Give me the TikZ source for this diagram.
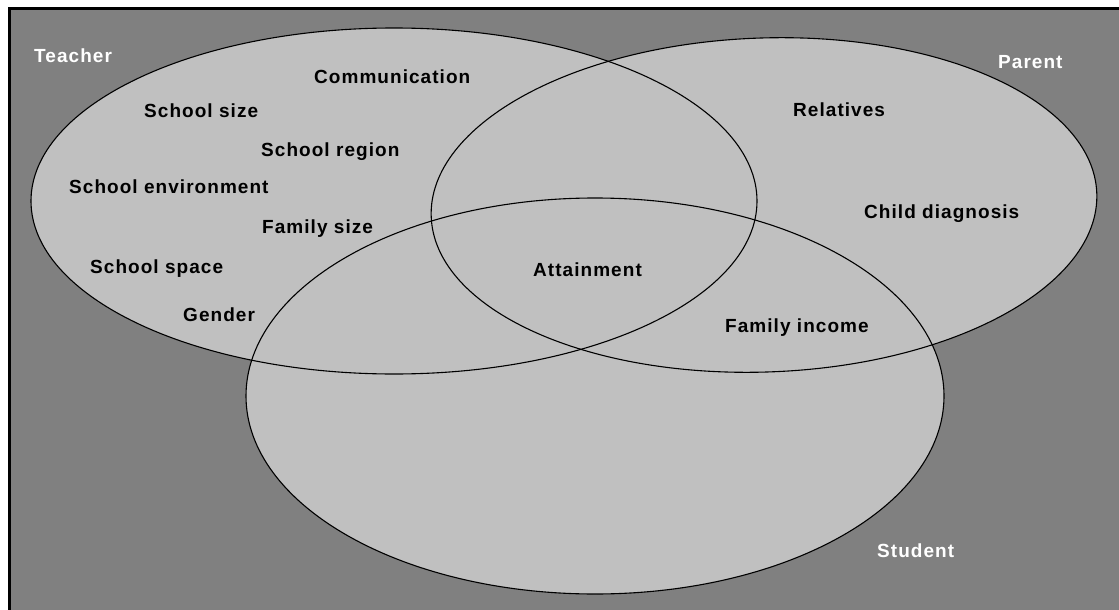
\documentclass[tikz,border=0pt]{standalone}
\usepackage{fontspec}
\setmainfont[LetterSpace=5.5]{Liberation Sans}
\definecolor{bggray}{HTML}{808080}
\definecolor{setgray}{HTML}{C0C0C0}
\tikzset{
  lbl/.style={anchor=base west, inner sep=0pt, font=\bfseries\fontsize{19}{22}\selectfont, text=black},
  wlbl/.style={lbl, text=white},
  setfill/.style={fill=setgray},
  setline/.style={draw=black, line width=1.1pt}
}
\begin{document}
\begin{tikzpicture}[x=1pt,y=-1pt]
\path[use as bounding box, fill=white] (0,0) rectangle (1119,610);
\fill[bggray] (9,8) rectangle (1119,610);
\draw[line width=2.6pt] (9.6,610) -- (9.6,8.6) -- (1119,8.6);
% set centres
\coordinate (cT) at (394,201);
\coordinate (cP) at (764,205);
\coordinate (cS) at (595,396);
% fills
\fill[setfill] (cT) ellipse [x radius=363pt, y radius=173pt];
\fill[setfill, rotate around={2:(cP)}] (cP) ellipse [x radius=333pt, y radius=167pt];
\fill[setfill] (cS) ellipse [x radius=349pt, y radius=198pt];
% outlines
\draw[setline] (cT) ellipse [x radius=363pt, y radius=173pt];
\draw[setline, rotate around={2:(cP)}] (cP) ellipse [x radius=333pt, y radius=167pt];
\draw[setline] (cS) ellipse [x radius=349pt, y radius=198pt];
% labels
\node[wlbl] (teacher) at (34,63) {Teacher};
\node[wlbl] (parent) at (998,68) {Parent};
\node[wlbl] (student) at (877,557) {Student};
\node[lbl] (comm) at (314,83) {Communication};
\node[lbl] (ssize) at (144,117) {School size};
\node[lbl] (sregion) at (261,156) {School region};
\node[lbl] (senv) at (69,193) {School environment};
\node[lbl] (fsize) at (262,233) {Family size};
\node[lbl] (sspace) at (90,273) {School space};
\node[lbl] (gender) at (183,321) {Gender};
\node[lbl] (rel) at (793,116) {Relatives};
\node[lbl] (child) at (864,218) {Child diagnosis};
\node[lbl] (income) at (725,332) {Family income};
\node[lbl] (attain) at (533,276) {Attainment};
\end{tikzpicture}
\end{document}
